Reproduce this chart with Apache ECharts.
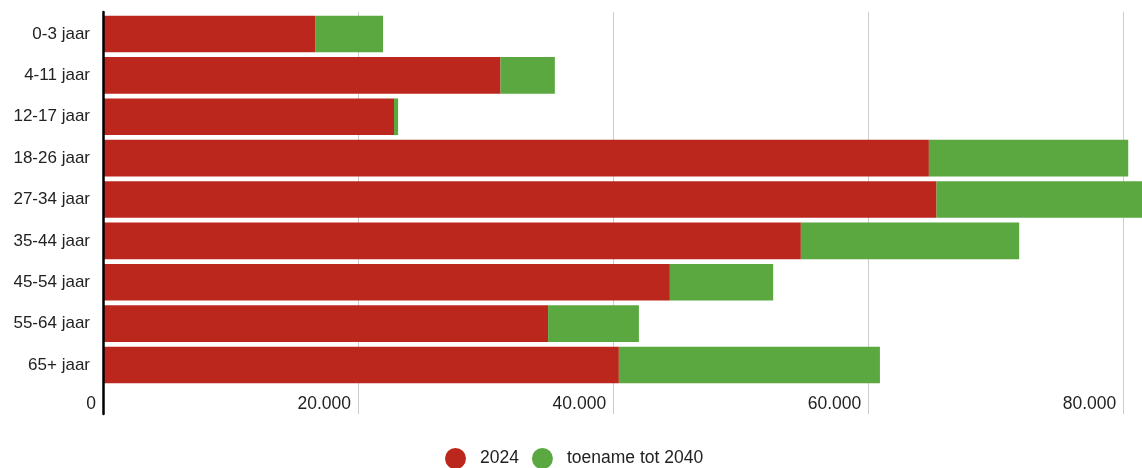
<!DOCTYPE html>
<html>
<head>
<meta charset="utf-8">
<script src="https://cdn.jsdelivr.net/npm/echarts@6/dist/echarts.min.js"></script>
<style>
  html, body { margin: 0; padding: 0; background: #fff; }
  #chart { width: 1142px; height: 468px; }
</style>
</head>
<body>
<div id="chart"></div>
<script>
const categories = ['0-3 jaar', '4-11 jaar', '12-17 jaar', '18-26 jaar', '27-34 jaar', '35-44 jaar', '45-54 jaar', '55-64 jaar', '65+ jaar'];
const values2024 = [16630, 31170, 22820, 64760, 65360, 54720, 44450, 34900, 40450];
const increase2040 = [5330, 4260, 320, 15630, 16110, 17120, 8100, 7120, 20470];
const seriesNames = ['2024', 'toename tot 2040'];
const xMax = 81470;
const xInterval = 20000;

const FONT = '"Liberation Sans", Arial, sans-serif';

function fmt(v) {
  return String(Math.round(v)).replace(/\B(?=(\d{3})+(?!\d))/g, '.');
}

const chart = echarts.init(document.getElementById('chart'), null, { renderer: 'canvas' });
chart.setOption({
  animation: false,
  backgroundColor: '#ffffff',
  textStyle: { fontFamily: FONT },
  legend: {
    data: seriesNames,
    top: 443,
    left: 440,
    icon: 'circle',
    itemWidth: 39,
    itemHeight: 21,
    itemGap: 13,
    textStyle: { fontSize: 17.5, color: '#222', fontFamily: FONT }
  },
  grid: [
    { left: 103, right: 0, top: 13.3, height: 372.4 },
    { left: 103, right: 0, top: 12, bottom: 54 }
  ],
  xAxis: [
    { gridIndex: 0, type: 'value', min: 0, max: xMax, interval: xInterval, show: false },
    {
      gridIndex: 1, type: 'value', min: 0, max: xMax, interval: xInterval,
      axisLine: { show: false },
      axisTick: { show: false },
      splitLine: { show: true, showMinLine: false, showMaxLine: false, lineStyle: { color: '#cccccc', width: 1 } },
      axisLabel: {
        inside: true, margin: 1, align: 'right', padding: [0, 7, 0, 0],
        fontSize: 17.5, color: '#222', fontFamily: FONT,
        showMaxLabel: false,
        formatter: function (v) { return v % xInterval === 0 ? fmt(v) : ''; }
      }
    }
  ],
  yAxis: [
    {
      gridIndex: 0, type: 'category', data: categories, inverse: true,
      axisLine: { show: false },
      axisTick: { show: false },
      splitLine: { show: false },
      axisLabel: { fontSize: 17, color: '#222', margin: 13, fontFamily: FONT }
    },
    {
      gridIndex: 1, type: 'value', z: 10,
      axisLine: { show: true, onZero: false, lineStyle: { color: '#000', width: 2.5 } },
      axisTick: { show: false },
      axisLabel: { show: false },
      splitLine: { show: false }
    }
  ],
  series: [
    {
      name: seriesNames[0], type: 'bar', stack: 'total', xAxisIndex: 0, yAxisIndex: 0,
      data: values2024, barCategoryGap: '11.6%',
      itemStyle: { color: '#bc271d' }
    },
    {
      name: seriesNames[1], type: 'bar', stack: 'total', xAxisIndex: 0, yAxisIndex: 0,
      data: increase2040, barCategoryGap: '11.6%',
      itemStyle: { color: '#5ba840' }
    }
  ]
});
</script>
</body>
</html>
